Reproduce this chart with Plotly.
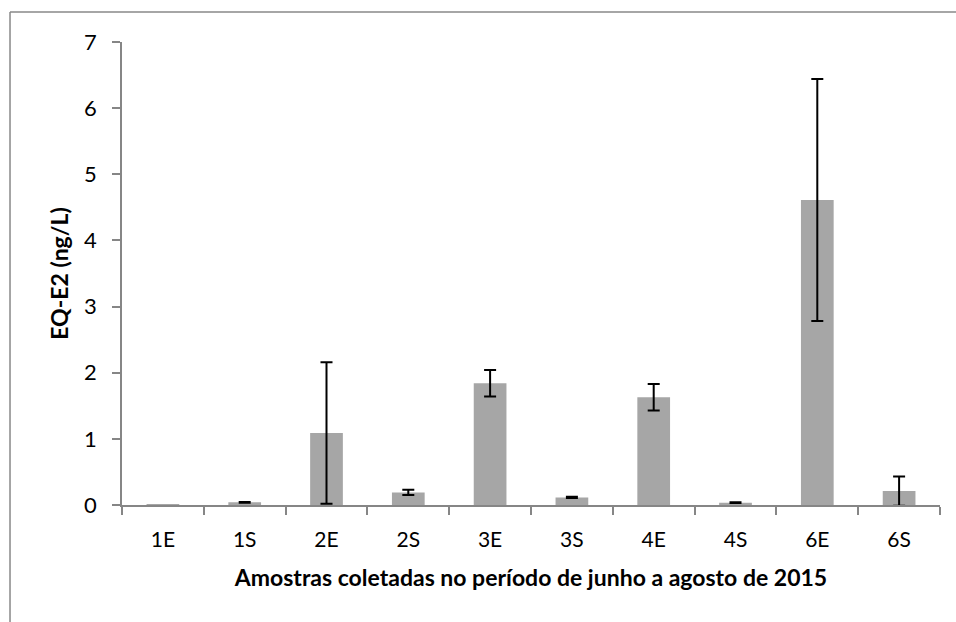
import plotly.graph_objects as go

# Sampling points and estrogenic-equivalent concentrations (ng/L)
samples = ["1E", "1S", "2E", "2S", "3E", "3S", "4E", "4S", "6E", "6S"]
eq_e2 = [0.015, 0.04, 1.09, 0.19, 1.84, 0.115, 1.63, 0.035, 4.61, 0.21]
# "none" marks a sample without a reported deviation (no error bar drawn)
eq_e2_sd = ["none", 0.006, 1.07, 0.04, 0.2, 0.008, 0.2, 0.006, 1.83, 0.22]

y_ticks = [0, 1, 2, 3, 4, 5, 6, 7]

FONT = "Lato"
AXIS_GREY = "#868686"

fig = go.Figure(
    go.Bar(
        x=samples,
        y=eq_e2,
        marker=dict(color="#A6A6A6", line=dict(width=0)),
        error_y=dict(
            type="data",
            array=eq_e2_sd,
            visible=True,
            color="black",
            thickness=2,
            width=6,
        ),
    )
)

fig.update_layout(
    width=956,
    height=622,
    margin=dict(l=122, r=16, t=42, b=117),
    paper_bgcolor="white",
    plot_bgcolor="white",
    bargap=0.6,
    showlegend=False,
    font=dict(family=FONT, color="black", size=22),
)

fig.update_xaxes(
    type="category",
    showline=True,
    linecolor=AXIS_GREY,
    linewidth=1.5,
    showgrid=False,
    ticks="outside",
    ticklen=8,
    tickcolor=AXIS_GREY,
    tickwidth=1.5,
    tickson="boundaries",
    tickfont=dict(size=21, family=FONT),
    ticklabelstandoff=15,
    title=dict(
        text="<b>Amostras coletadas no período de junho a agosto de 2015</b>",
        font=dict(size=23, family=FONT),
        standoff=20,
    ),
)

fig.update_yaxes(
    range=[0, 7],
    tickvals=y_ticks,
    showline=True,
    linecolor=AXIS_GREY,
    linewidth=1.5,
    showgrid=False,
    zeroline=False,
    ticks="outside",
    ticklen=8,
    tickcolor=AXIS_GREY,
    tickwidth=1.5,
    tickfont=dict(size=22, family=FONT),
    ticklabelstandoff=11,
    title=dict(
        text="<b>EQ-E2 (ng/L)</b>",
        font=dict(size=23, family=FONT),
        standoff=9,
    ),
)

# Outer chart frame (top and left edges)
frame = dict(color="#888888", width=1.5)
fig.add_shape(type="line", xref="paper", yref="paper",
              x0=-0.1369, x1=1.05, y0=1.0648, y1=1.0648, line=frame)
fig.add_shape(type="line", xref="paper", yref="paper",
              x0=-0.1369, x1=-0.1369, y0=1.0648, y1=-0.27, line=frame)

fig.write_html("out.html")
